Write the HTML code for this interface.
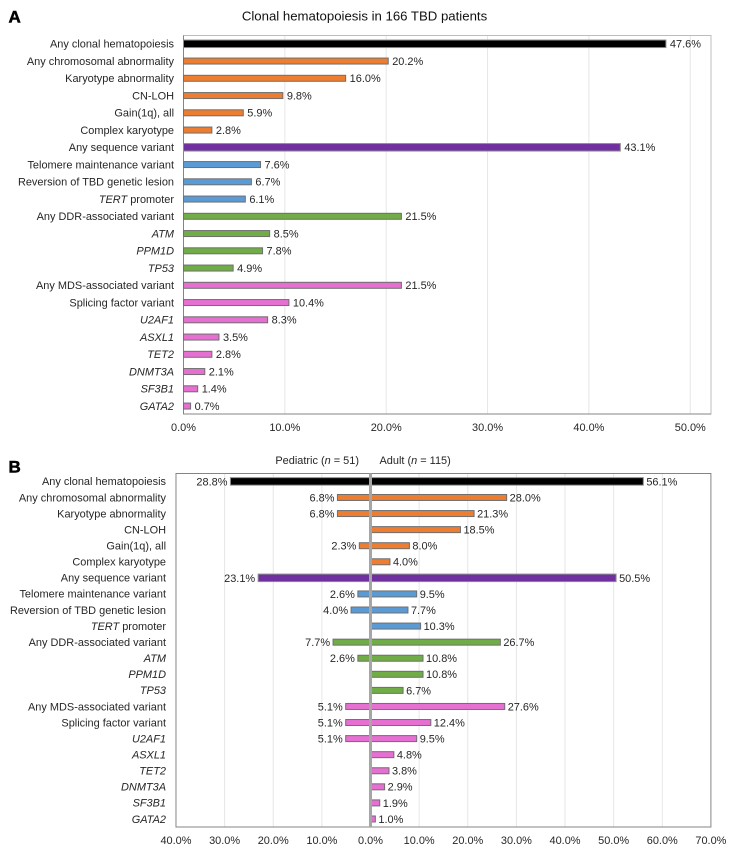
<!DOCTYPE html>
<html lang="en">
<head>
<meta charset="utf-8">
<title>Clonal hematopoiesis in 166 TBD patients</title>
<style>
html,body{margin:0;padding:0;background:#fff;width:730px;height:851px;overflow:hidden}
svg{display:block;font-family:"Liberation Sans",Arial,sans-serif;fill:#262626}
text{font-size:10.95px}
</style>
</head>
<body>
<svg id="chart" width="730" height="851" viewBox="0 0 730 851" xmlns="http://www.w3.org/2000/svg">
  <text x="8.5" y="22.5" style="font-size:17px;font-weight:bold;fill:#000;stroke:#000;stroke-width:.5">A</text>
  <text x="364.5" y="20.5" text-anchor="middle" style="font-size:13.2px;fill:#111">Clonal hematopoiesis in 166 TBD patients</text>
  <text x="8.5" y="472.5" style="font-size:17px;font-weight:bold;fill:#000;stroke:#000;stroke-width:.5">B</text>
  <text x="359" y="464" text-anchor="end">Pediatric (<tspan font-style="italic">n</tspan> = 51)</text>
  <text x="379.5" y="464">Adult (<tspan font-style="italic">n</tspan> = 115)</text>
  <g id="panel-a"></g>
  <g id="panel-b"></g>
</svg>
<script>
const categories = ["Any clonal hematopoiesis","Any chromosomal abnormality","Karyotype abnormality","CN-LOH","Gain(1q), all","Complex karyotype","Any sequence variant","Telomere maintenance variant","Reversion of TBD genetic lesion","TERT promoter","Any DDR-associated variant","ATM","PPM1D","TP53","Any MDS-associated variant","Splicing factor variant","U2AF1","ASXL1","TET2","DNMT3A","SF3B1","GATA2"];
const italicCategories = ["ATM","PPM1D","TP53","U2AF1","ASXL1","TET2","DNMT3A","SF3B1","GATA2"];
const groups = ["any","chrom","chrom","chrom","chrom","chrom","seq","telo","telo","telo","ddr","ddr","ddr","ddr","mds","mds","mds","mds","mds","mds","mds","mds"];
const allPatients = [47.6,20.2,16.0,9.8,5.9,2.8,43.1,7.6,6.7,6.1,21.5,8.5,7.8,4.9,21.5,10.4,8.3,3.5,2.8,2.1,1.4,0.7];
const pediatric = [28.8,6.8,6.8,null,2.3,null,23.1,2.6,4.0,null,7.7,2.6,null,null,5.1,5.1,5.1,null,null,null,null,null];
const adult = [56.1,28.0,21.3,18.5,8.0,4.0,50.5,9.5,7.7,10.3,26.7,10.8,10.8,6.7,27.6,12.4,9.5,4.8,3.8,2.9,1.9,1.0];
const ticksA = [0,10,20,30,40,50];
const ticksB = [-40,-30,-20,-10,0,10,20,30,40,50,60,70];

const groupColors = {any:"#000000",chrom:"#ED7D31",seq:"#7030A0",telo:"#5B9BD5",ddr:"#70AD47",mds:"#E66FD2"};
const NS = "http://www.w3.org/2000/svg";

function mk(parent, tag, attrs, text) {
  const el = document.createElementNS(NS, tag);
  for (const k in attrs) el.setAttribute(k, attrs[k]);
  if (text !== undefined) el.textContent = text;
  parent.appendChild(el);
  return el;
}

function xA(v) { return 183.5 + v * 10.135; }
function yA(i) { return 43.8 + i * 17.25; }
function xB(v) { return 370.5 + v * 4.863; }
function yB(i) { return 481.4 + i * 16.075; }

function categoryLabel(parent, i, y, right) {
  const name = categories[i];
  const italic = italicCategories.includes(name);
  const t = mk(parent, "text", {x: right, y: y + 3.8, "text-anchor": "end"});
  
  
  if (name === "TERT promoter") {
    mk(t, "tspan", {"font-style": "italic"}, "TERT");
    mk(t, "tspan", {}, " promoter");
  } else {
    t.textContent = name;
    if (italic) t.setAttribute("font-style", "italic");
  }
}

function bar(parent, x0, x1, y, group, name) {
  const thick = group === "any" || group === "seq";
  const h = thick ? 7.5 : 6;
  const r = mk(parent, "rect", {
    x: Math.min(x0, x1), y: y - h / 2, width: Math.abs(x1 - x0), height: h,
    fill: groupColors[group], stroke: thick ? "#8c8c8c" : "#6f6f6f", "stroke-width": 1
  });
  
  
}

function valueLabel(parent, x, y, v, anchor) {
  const t = mk(parent, "text", {x: x, y: y + 3.9, "text-anchor": anchor}, v.toFixed(1) + "%");
  
  
}

function gridLine(parent, x, y0, y1) {
  const l = mk(parent, "line", {x1: x, x2: x, y1: y0, y2: y1, stroke: "#e6e6e6", "stroke-width": 1});
  
  
}

function tickLabel(parent, x, y, v) {
  const t = mk(parent, "text", {x: x, y: y, "text-anchor": "middle"}, Math.abs(v).toFixed(1) + "%");
  
  
}

function drawA() {
  const g = document.getElementById("panel-a");
  const top = 35.5, bottom = 414, right = 711;
  ticksA.forEach(v => { if (v) gridLine(g, xA(v), top, bottom); tickLabel(g, xA(v), 431, v); });
  const frame = mk(g, "path", {d: `M${xA(0)} ${top}H${right}V${bottom}H${xA(0)}Z`, fill: "none", stroke: "#bdbdbd", "stroke-width": 1});
  
  
  const axis = mk(g, "path", {d: `M${xA(0)} ${top}V${bottom}H${right}`, fill: "none", stroke: "#858585", "stroke-width": 1});
  
  
  categories.forEach((c, i) => {
    const y = yA(i);
    categoryLabel(g, i, y, 174);
    bar(g, xA(0), xA(allPatients[i]), y, groups[i], "bar-all-patients");
    valueLabel(g, xA(allPatients[i]) + 4, y, allPatients[i], "start");
  });
}

function drawB() {
  const g = document.getElementById("panel-b");
  const top = 473.5, bottom = 827, left = xB(-40), right = xB(70);
  ticksB.forEach(v => {
    if (v && v !== -40 && v !== 70) gridLine(g, xB(v), top, bottom);
    tickLabel(g, xB(v), 844, v);
  });
  const frame = mk(g, "rect", {x: left, y: top, width: right - left, height: bottom - top, fill: "none", stroke: "#858585", "stroke-width": 1});
  
  
  categories.forEach((c, i) => {
    const y = yB(i);
    categoryLabel(g, i, y, 166);
    if (pediatric[i] !== null) {
      bar(g, xB(0), xB(-pediatric[i]), y, groups[i], "bar-pediatric");
      valueLabel(g, xB(-pediatric[i]) - 3, y, pediatric[i], "end");
    }
    bar(g, xB(0), xB(adult[i]), y, groups[i], "bar-adult");
    valueLabel(g, xB(adult[i]) + 3, y, adult[i], "start");
  });
  const zero = mk(g, "line", {x1: xB(0), x2: xB(0), y1: top, y2: bottom, stroke: "#a6a6a6", "stroke-width": 3});
  
  
}

drawA();
drawB();
</script>
</body>
</html>
